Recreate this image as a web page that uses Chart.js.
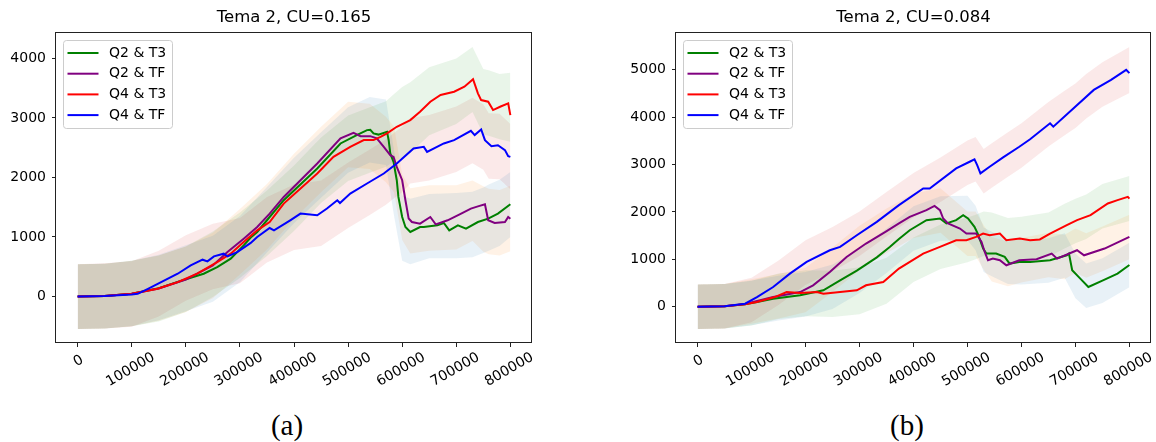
<!DOCTYPE html>
<html>
<head>
<meta charset="utf-8">
<script src="https://cdn.jsdelivr.net/npm/chart.js@4.4.0/dist/chart.umd.min.js"></script>
<style>
  body { margin: 0; background: #fff; }
  #wrap { position: relative; width: 1156px; height: 442px; }
  canvas { position: absolute; top: 0; }
  .cap { position: absolute; top: 410px; width: 60px; line-height: 30px; text-align: center; font-size: 29px; font-family: "Liberation Serif", serif; color: #000; }
</style>
</head>
<body>
<div id="wrap">
  <canvas id="chartA" width="560" height="400" style="left:0"></canvas>
  <canvas id="chartB" width="536" height="400" style="left:620px"></canvas>
  <div class="cap" style="left:257px">(a)</div>
  <div class="cap" style="left:877px">(b)</div>
</div>
<script>
// tick values
const xTicks = [0, 100000, 200000, 300000, 400000, 500000, 600000, 700000, 800000];
const yTicksA = [0, 1000, 2000, 3000, 4000];
const yTicksB = [0, 1000, 2000, 3000, 4000, 5000];

const seriesNames = ['Q2 & T3', 'Q2 & TF', 'Q4 & T3', 'Q4 & TF'];
const lineColors = ['green', 'purple', 'red', 'blue'];
const bandColors = ['rgba(31,119,180,0.1)', 'rgba(255,127,14,0.1)', 'rgba(44,160,44,0.1)', 'rgba(214,39,40,0.1)'];

// ---- (a) CU=0.165 : mean curves ----
const aQ2T3x = [0, 50000, 100000, 150000, 200000, 233000, 258000, 283000, 307000, 320000, 332000, 355000, 381000, 443000, 486000, 516000, 535000, 541000, 547000, 556000, 572000, 575000, 578000, 584000, 590000, 593000, 600000, 606000, 615000, 633000, 640000, 665000, 677000, 687000, 703000, 718000, 740000, 759000, 777000, 800000];
const aQ2T3y = [0, 8, 45, 140, 290, 382, 493, 635, 859, 990, 1083, 1335, 1617, 2150, 2571, 2711, 2795, 2800, 2740, 2720, 2767, 2627, 2403, 2262, 1953, 1672, 1335, 1167, 1083, 1167, 1167, 1195, 1235, 1111, 1195, 1139, 1251, 1307, 1393, 1549];
const aQ2TFx = [0, 50000, 100000, 150000, 200000, 250000, 277000, 307000, 332000, 355000, 381000, 443000, 486000, 510000, 523000, 541000, 553000, 566000, 578000, 584000, 590000, 600000, 606000, 612000, 618000, 633000, 652000, 662000, 684000, 709000, 727000, 740000, 753000, 759000, 771000, 790000, 796000, 800000];
const aQ2TFy = [0, 8, 45, 135, 285, 520, 746, 971, 1167, 1393, 1672, 2234, 2656, 2750, 2694, 2694, 2656, 2514, 2374, 2346, 2177, 1953, 1617, 1309, 1251, 1224, 1335, 1212, 1280, 1393, 1477, 1514, 1549, 1280, 1235, 1251, 1335, 1307];
const aQ4T3x = [0, 50000, 100000, 148000, 185000, 221000, 258000, 283000, 307000, 332000, 355000, 381000, 443000, 473000, 504000, 529000, 547000, 560000, 572000, 590000, 615000, 633000, 652000, 671000, 696000, 715000, 731000, 740000, 746000, 759000, 768000, 781000, 796000, 800000];
const aQ4T3y = [0, 8, 45, 129, 241, 382, 578, 719, 915, 1111, 1251, 1561, 2066, 2346, 2514, 2627, 2627, 2683, 2740, 2851, 2964, 3103, 3272, 3385, 3440, 3525, 3650, 3413, 3300, 3272, 3132, 3188, 3245, 3048];
const aQ4TFx = [0, 50000, 100000, 111000, 130000, 148000, 185000, 209000, 231000, 240000, 252000, 270000, 277000, 295000, 320000, 332000, 355000, 363000, 393000, 412000, 443000, 461000, 480000, 485000, 504000, 535000, 566000, 590000, 621000, 640000, 646000, 677000, 696000, 727000, 734000, 746000, 753000, 765000, 777000, 790000, 796000, 800000];
const aQ4TFy = [0, 8, 35, 45, 129, 213, 382, 522, 618, 590, 674, 719, 674, 746, 900, 1000, 1150, 1110, 1280, 1393, 1364, 1477, 1617, 1570, 1729, 1898, 2066, 2234, 2487, 2514, 2430, 2571, 2627, 2784, 2711, 2807, 2627, 2526, 2540, 2459, 2358, 2346];

// (a) shaded spread, upper / lower edges
const aBandX = [0, 50000, 100000, 150000, 200000, 250000, 300000, 350000, 400000, 450000, 500000, 540000, 570000, 585000, 600000, 615000, 650000, 700000, 730000, 750000, 760000, 780000, 800000];
const aQ2T3hi = [540, 550, 600, 700, 860, 1020, 1350, 1840, 2330, 2760, 3180, 3350, 3310, 2450, 1700, 1640, 1720, 1740, 1760, 1830, 1880, 1960, 2090];
const aQ2T3lo = [-545, -540, -500, -400, -250, -90, 240, 740, 1230, 1660, 2080, 2250, 2210, 1350, 600, 540, 640, 640, 660, 730, 770, 850, 1000];
const aQ2TFhi = [540, 550, 600, 690, 840, 1070, 1470, 1890, 2400, 2850, 3270, 3240, 3020, 2850, 2050, 1820, 1870, 1870, 1950, 1850, 1810, 1790, 1860];
const aQ2TFlo = [-545, -540, -500, -410, -260, -30, 370, 790, 1300, 1750, 2170, 2140, 1920, 1750, 950, 720, 770, 790, 930, 750, 710, 690, 760];
const aQ4T3hi = [540, 550, 600, 690, 840, 1090, 1410, 1780, 2200, 2670, 3040, 3180, 3280, 3400, 3520, 3600, 3850, 4000, 4190, 3820, 3800, 3740, 3760];
const aQ4T3lo = [-545, -540, -500, -420, -260, -10, 310, 680, 1100, 1570, 1940, 2080, 2180, 2270, 2330, 2410, 2710, 2900, 3100, 2720, 2700, 2640, 2600];
const aQ4TFhi = [540, 560, 590, 770, 1030, 1220, 1320, 1670, 1880, 1950, 2250, 2470, 2640, 2750, 2850, 3000, 3050, 3190, 3340, 3230, 3080, 3070, 2900];
const aQ4TFlo = [-545, -540, -510, -335, -70, 120, 220, 570, 780, 850, 1150, 1370, 1540, 1650, 1750, 1900, 1950, 2090, 2240, 2130, 1980, 1970, 1800];

// ---- (b) CU=0.084 : mean curves ----
const bQ2T3x = [0, 50000, 88000, 110000, 140000, 190000, 233000, 264000, 295000, 332000, 356000, 373000, 393000, 424000, 449000, 461000, 479000, 492000, 501000, 513000, 519000, 529000, 535000, 553000, 569000, 578000, 596000, 616000, 653000, 684000, 688000, 694000, 709000, 724000, 751000, 778000, 800000];
const bQ2T3y = [0, 8, 50, 100, 169, 239, 345, 556, 760, 1040, 1260, 1430, 1614, 1826, 1861, 1756, 1826, 1932, 1861, 1684, 1544, 1227, 1120, 1120, 1050, 909, 944, 944, 979, 1085, 1121, 768, 592, 415, 556, 698, 880];
const bQ2TFx = [0, 50000, 88000, 140000, 190000, 214000, 245000, 276000, 312000, 348000, 373000, 393000, 424000, 439000, 449000, 455000, 464000, 486000, 498000, 516000, 526000, 532000, 538000, 547000, 560000, 572000, 596000, 628000, 656000, 666000, 703000, 716000, 754000, 800000];
const bQ2TFy = [0, 8, 55, 203, 309, 451, 732, 1049, 1333, 1580, 1760, 1896, 2037, 2128, 2037, 1861, 1756, 1650, 1544, 1544, 1367, 1155, 979, 1014, 979, 874, 979, 1000, 1121, 1014, 1191, 1085, 1227, 1472];
const bQ4T3x = [0, 50000, 88000, 110000, 143000, 165000, 190000, 221000, 233000, 264000, 295000, 312000, 344000, 373000, 418000, 449000, 479000, 498000, 516000, 529000, 541000, 560000, 572000, 597000, 616000, 634000, 653000, 684000, 703000, 728000, 760000, 778000, 797000, 800000];
const bQ4T3y = [0, 8, 50, 97, 203, 309, 290, 309, 275, 309, 345, 451, 521, 804, 1121, 1261, 1403, 1403, 1472, 1544, 1509, 1544, 1403, 1438, 1403, 1420, 1544, 1720, 1826, 1932, 2179, 2249, 2319, 2280];
const bQ4TFx = [0, 50000, 88000, 110000, 140000, 171000, 202000, 245000, 264000, 295000, 332000, 373000, 418000, 430000, 479000, 504000, 513000, 518000, 524000, 541000, 566000, 596000, 616000, 653000, 659000, 734000, 766000, 794000, 800000];
const bQ4TFy = [0, 8, 63, 203, 415, 698, 944, 1191, 1261, 1508, 1790, 2143, 2496, 2496, 2919, 3059, 3110, 2989, 2814, 2953, 3152, 3376, 3533, 3871, 3800, 4576, 4787, 4999, 4929];

// (b) shaded spread, upper / lower edges
const bBandX = [0, 50000, 100000, 150000, 200000, 250000, 300000, 350000, 400000, 450000, 500000, 515000, 530000, 545000, 575000, 600000, 650000, 680000, 700000, 720000, 750000, 800000];
const bQ2T3hi = [470, 480, 550, 650, 730, 890, 1230, 1650, 2120, 2330, 2340, 2130, 1670, 1580, 1420, 1410, 1445, 1550, 1120, 910, 1020, 1350];
const bQ2T3lo = [-470, -460, -390, -290, -210, -50, 290, 710, 1180, 1390, 1400, 1190, 730, 640, 480, 470, 505, 610, 180, -30, 80, 410];
const bQ2TFhi = [470, 480, 580, 690, 820, 1250, 1710, 2070, 2390, 2500, 2010, 2010, 1720, 1470, 1370, 1450, 1560, 1520, 1650, 1550, 1690, 1940];
const bQ2TFlo = [-470, -460, -360, -250, -120, 310, 770, 1130, 1450, 1560, 1070, 1070, 780, 530, 430, 510, 620, 580, 710, 610, 750, 1000];
const bQ4T3hi = [470, 480, 545, 700, 770, 760, 830, 1030, 1460, 1735, 1880, 1940, 2010, 1990, 1870, 1900, 1990, 2170, 2280, 2370, 2590, 2760];
const bQ4T3lo = [-470, -460, -395, -260, -200, -220, -160, 60, 520, 795, 940, 1000, 1070, 1050, 930, 960, 1050, 1230, 1340, 1430, 1650, 1810];
const bQ4TFhi = [470, 480, 610, 975, 1400, 1680, 2010, 2420, 2820, 3150, 3510, 3580, 3330, 3450, 3680, 3870, 4320, 4560, 4710, 4910, 5160, 5480];
const bQ4TFlo = [-470, -460, -330, 35, 460, 740, 1070, 1480, 1880, 2210, 2570, 2640, 2390, 2510, 2740, 2930, 3380, 3620, 3770, 3970, 4220, 4510];

const FONT = 'DejaVu Sans';

function pts(xs, ys) {
  return xs.map((x, i) => ({ x: x, y: ys[i] }));
}

// matplotlib-like legend box in the upper left corner
const boxLegend = {
  id: 'boxLegend',
  afterDatasetsDraw(chart) {
    const ctx = chart.ctx;
    const a = chart.chartArea;
    const items = chart.data.datasets.filter(d => d.isLine);
    const x = a.left + 7, y = a.top + 7;
    ctx.save();
    ctx.beginPath();
    ctx.roundRect(x + 0.5, y + 0.5, 109, 88, 3);
    ctx.fillStyle = 'rgba(255,255,255,0.8)';
    ctx.fill();
    ctx.strokeStyle = '#cccccc';
    ctx.lineWidth = 1;
    ctx.stroke();
    ctx.font = '14px "' + FONT + '"';
    ctx.textBaseline = 'middle';
    items.forEach((d, i) => {
      const ry = y + 13 + i * 20.7;
      ctx.beginPath();
      ctx.moveTo(x + 4.5, ry);
      ctx.lineTo(x + 35.5, ry);
      ctx.strokeStyle = d.borderColor;
      ctx.lineWidth = 2;
      ctx.stroke();
      ctx.fillStyle = '#000';
      ctx.fillText(d.label, x + 46, ry);
    });
    ctx.restore();
  }
};

// full box around the axes
const frame = {
  id: 'frame',
  afterDatasetsDraw(chart) {
    const ctx = chart.ctx;
    const a = chart.chartArea;
    ctx.save();
    ctx.strokeStyle = '#222';
    ctx.lineWidth = 1;
    ctx.strokeRect(a.left - 0.5, a.top - 0.5, a.right - a.left, a.bottom - a.top);
    ctx.restore();
  }
};

// Chart.js right-aligns rotated tick labels; the short first label is
// centred under its tick here, the way matplotlib places it
const firstTickLabel = {
  id: 'firstTickLabel',
  afterDraw(chart) {
    const s = chart.scales.x;
    const ctx = chart.ctx;
    ctx.save();
    ctx.translate(s.getPixelForValue(xTicks[0]) + 1, s.top + 18);
    ctx.rotate(-Math.PI / 6);
    ctx.font = '14px "' + FONT + '"';
    ctx.fillStyle = '#000';
    ctx.textAlign = 'center';
    ctx.textBaseline = 'middle';
    ctx.fillText(String(xTicks[0]), 0, 0);
    ctx.restore();
  }
};

function makeChart(id, title, lines, bands, bandX, yMin, yMax, yTicks, padRight) {
  const datasets = [];
  lines.forEach((s, i) => {
    datasets.push({
      label: seriesNames[i],
      data: pts(s[0], s[1]),
      isLine: true,
      borderColor: lineColors[i],
      borderWidth: 2,
      pointRadius: 0,
      fill: false,
      order: 3 - i
    });
  });
  bands.forEach((b, i) => {
    const hiIndex = datasets.length;
    datasets.push({
      data: pts(bandX, b[0]),
      borderColor: 'transparent',
      borderWidth: 0,
      pointRadius: 0,
      backgroundColor: bandColors[i],
      fill: hiIndex + 1,
      order: 10
    });
    datasets.push({
      data: pts(bandX, b[1]),
      borderColor: 'transparent',
      borderWidth: 0,
      pointRadius: 0,
      fill: false,
      order: 10
    });
  });

  const tickFont = { family: FONT, size: 14 };
  const grid = { drawOnChartArea: false, drawTicks: true, tickLength: 4, color: '#222' };
  return new Chart(document.getElementById(id), {
    type: 'line',
    data: { datasets: datasets },
    options: {
      responsive: false,
      animation: false,
      layout: { padding: { left: 0, right: padRight, top: 0, bottom: 0 } },
      plugins: {
        legend: { display: false },
        tooltip: { enabled: false },
        filler: { drawTime: 'beforeDatasetsDraw' },
        title: {
          display: true,
          text: title,
          fullSize: false,
          color: '#000',
          font: { family: FONT, size: 16.5, weight: 'normal' },
          padding: { top: 8.2, bottom: 5 }
        }
      },
      scales: {
        x: {
          type: 'linear',
          min: -40000,
          max: 840000,
          afterBuildTicks: s => { s.ticks = xTicks.map(v => ({ value: v })); },
          afterFit: s => { s.height = 57; },
          border: { display: false },
          grid: grid,
          ticks: {
            autoSkip: false,
            minRotation: 30,
            maxRotation: 30,
            labelOffset: 22,
            padding: 2,
            color: '#000',
            font: tickFont,
            callback: v => (v === xTicks[0] ? '' : String(v))
          }
        },
        y: {
          type: 'linear',
          min: yMin,
          max: yMax,
          afterBuildTicks: s => { s.ticks = yTicks.map(v => ({ value: v })); },
          afterFit: s => { s.width = 56; },
          border: { display: false },
          grid: grid,
          ticks: { padding: 6, color: '#000', font: tickFont, callback: v => String(v) }
        }
      }
    },
    plugins: [frame, boxLegend, firstTickLabel]
  });
}

makeChart('chartA', 'Tema 2, CU=0.165',
  [[aQ2T3x, aQ2T3y], [aQ2TFx, aQ2TFy], [aQ4T3x, aQ4T3y], [aQ4TFx, aQ4TFy]],
  [[aQ2T3hi, aQ2T3lo], [aQ2TFhi, aQ2TFlo], [aQ4T3hi, aQ4T3lo], [aQ4TFhi, aQ4TFlo]],
  aBandX, -782, 4427, yTicksA, 28);

makeChart('chartB', 'Tema 2, CU=0.084',
  [[bQ2T3x, bQ2T3y], [bQ2TFx, bQ2TFy], [bQ4T3x, bQ4T3y], [bQ4TFx, bQ4TFy]],
  [[bQ2T3hi, bQ2T3lo], [bQ2TFhi, bQ2TFlo], [bQ4T3hi, bQ4T3lo], [bQ4TFhi, bQ4TFlo]],
  bBandX, -767, 5777, yTicksB, 5);
</script>
</body>
</html>
